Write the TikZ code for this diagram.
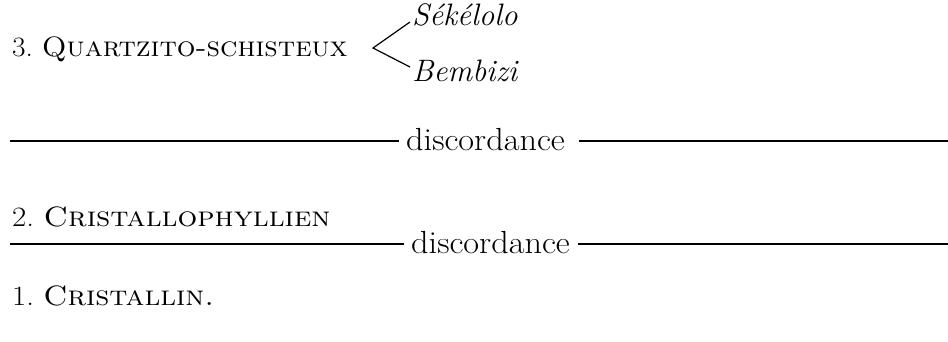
\documentclass[tikz,border=0pt]{standalone}
\usetikzlibrary{calc}
\tikzset{
  lbl/.style={inner sep=0pt, anchor=base west, font=\fontsize{28}{32}\selectfont},
  itl/.style={inner sep=0pt, anchor=base west, font=\fontsize{31}{36}\selectfont\itshape},
  disc/.style={inner sep=0pt, anchor=base west, font=\fontsize{32}{36}\selectfont},
  rule/.style={line width=1.8pt, black},
  brk/.style={line width=1.2pt, black}
}
\begin{document}
\begin{tikzpicture}[x=1pt,y=-1pt]
\fill[white] (0,0) rectangle (948,341);
\useasboundingbox (0,0) rectangle (948,341);
% row 3
\node[lbl] (q) at (12,56) {\scalebox{1.05}[1]{3.\ \textsc{Quartzito-schisteux}}};
\coordinate (apex) at (373,48);
\node[itl] (sek) at (412,25) {Sékélolo};
\node[itl] (bem) at (412,81) {Bembizi};
\draw[brk] ($(sek.base west)+(-2,-3)$) -- (apex) -- ($(bem.base west)+(-2,-14)$);
% discordance 1
\node[disc] (d1) at (406,150) {\scalebox{1.07}[1]{discordance}};
\coordinate (l1a) at (10,141);
\coordinate (l1b) at (948,141);
\draw[rule] (l1a) -- ($(d1.west|-l1a)+(-7,0)$);
\draw[rule] ($(d1.east|-l1b)+(14,0)$) -- (l1b);
% row 2
\node[lbl] (c2) at (12,226) {\scalebox{1.11}[1]{2.\ \textsc{Cristallophyllien}}};
% discordance 2
\node[disc] (d2) at (411,253) {\scalebox{1.07}[1]{discordance}};
\coordinate (l2a) at (10,244);
\coordinate (l2b) at (948,244);
\draw[rule] (l2a) -- ($(d2.west|-l2a)+(-7,0)$);
\draw[rule] ($(d2.east|-l2b)+(8,0)$) -- (l2b);
% row 1
\node[lbl] (c1) at (12,305) {\scalebox{1.10}[1]{1.\ \textsc{Cristallin.}}};
\end{tikzpicture}
\end{document}
